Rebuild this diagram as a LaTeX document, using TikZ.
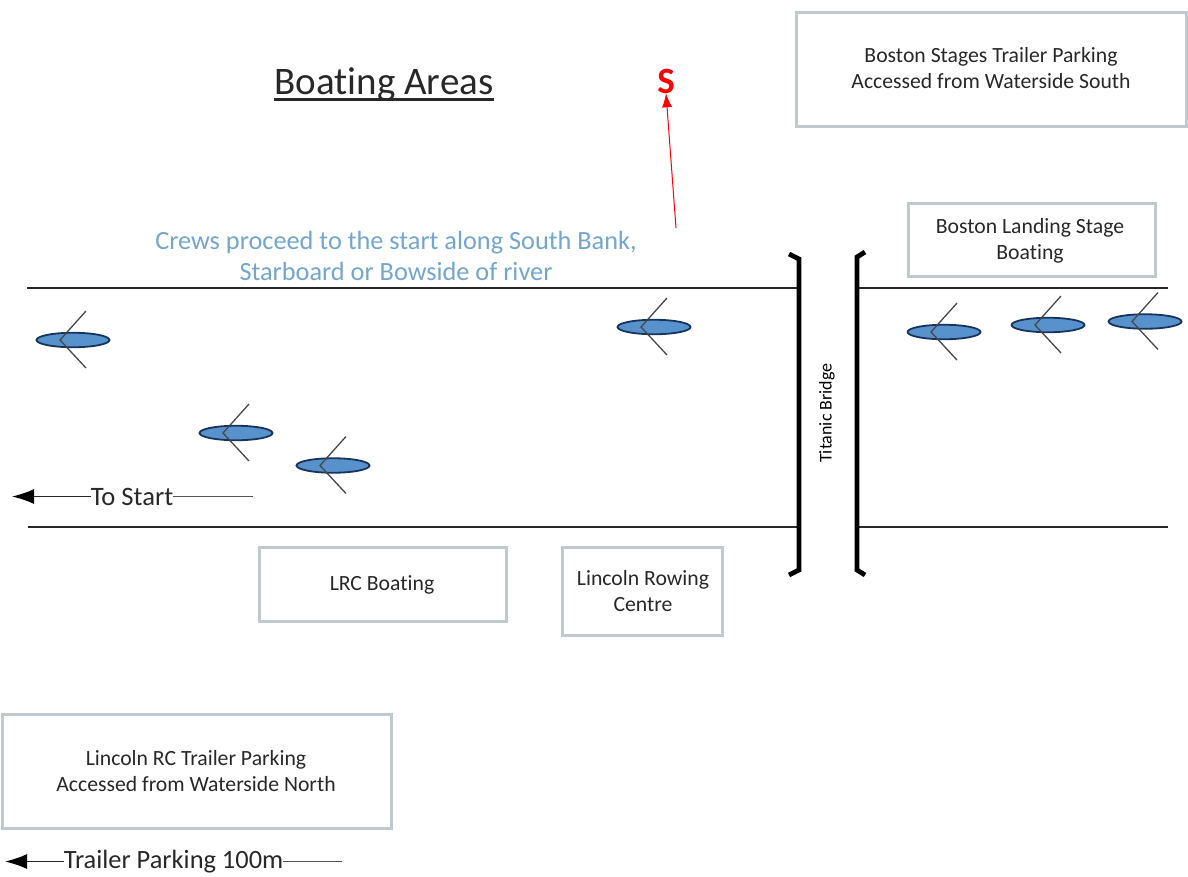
\documentclass[tikz,border=0pt]{standalone}
\usepackage{fontspec}
\setmainfont{Carlito}[Ligatures=CommonOff]
\usetikzlibrary{shapes.geometric,arrows.meta,calc}
\definecolor{boxline}{RGB}{192,200,208}
\definecolor{hull}{RGB}{88,146,205}
\definecolor{hullline}{RGB}{22,52,92}
\definecolor{crews}{RGB}{115,166,204}
\definecolor{ink}{RGB}{40,40,40}
\tikzset{
  x=1pt,y=-1pt,
  every node/.style={font=\fontsize{21.7}{26}\selectfont,text=ink,align=center,inner sep=0pt,outer sep=0pt},
  infobox/.style={draw=boxline,line width=3pt,fill=white,anchor=north west},
  hullshape/.style={ellipse,draw=hullline,line width=1.8pt,fill=hull,minimum width=73pt,minimum height=14.5pt},
  oar/.style={draw=ink!85,line width=1.3pt},
  bank/.style={draw=ink,line width=1.5pt},
  bridgeside/.style={draw=black,line width=4.8pt,line join=miter},
  pointer/.style={draw=ink,line width=1.5pt,-{Latex[length=22pt,width=15pt,color=black]}},
  plainline/.style={draw=ink!80,line width=1.5pt},
}
\newcommand{\boat}[3]{%
  \node[hullshape] (#1) at (#2,#3) {};
  \coordinate (#1v) at ($(#1.center)+(-13,0)$);
  \coordinate (#1u) at ($(#1.center)+(13,-29)$);
  \coordinate (#1d) at ($(#1.center)+(13,28)$);
  \draw[oar] (#1u) -- (#1v) -- (#1d);
}
\begin{document}
\begin{tikzpicture}
\useasboundingbox (0,0) rectangle (1188,876);
% boxes
\node[infobox,minimum width=390pt,minimum height=114pt] (stages) at (796,12) {};
\node at (991,68.5) (stagest) {Boston Stages Trailer Parking\\Accessed from Waterside South};
\node[infobox,minimum width=247pt,minimum height=73pt] (landing) at (908,203) {};
\node at (1030,240.5) (landingt) {Boston Landing Stage\\Boating};
\node[infobox,minimum width=247pt,minimum height=74pt] (lrc) at (259,547) {};
\node at (382,585) (lrct) {LRC Boating};
\node[infobox,minimum width=160pt,minimum height=88pt] (centre) at (562,547) {};
\node at (643,591.5) (centret) {Lincoln Rowing\\Centre};
\node[infobox,minimum width=389pt,minimum height=114pt] (lincoln) at (2,714) {};
\node at (196,771.5) (lincolnt) {Lincoln RC Trailer Parking\\Accessed from Waterside North};
% title and start marker
\node[font=\fontsize{39}{44}\selectfont] (title) at (384,84) {Boating Areas};
\coordinate (ula) at (274,99.5); \coordinate (ulb) at (493.5,99.5);
\draw[draw=ink,line width=2.2pt] (ula) -- (ulb);
\node[font=\fontsize{37}{40}\selectfont\bfseries,text=red] (s) at (666,81) {S};
\coordinate (sfoot) at (676,228);
\draw[draw=red,line width=1pt,-{Latex[length=14pt,width=10pt]}] (sfoot) -- (s.south);
\node[font=\fontsize{26.3}{31}\selectfont,text=crews] (crews) at (396,256) {Crews proceed to the start along South Bank,\\Starboard or Bowside of river};
% banks
\coordinate (nw) at (27,288); \coordinate (nl) at (799,288);
\coordinate (nr) at (857,288); \coordinate (ne) at (1168,288);
\coordinate (sw) at (28,527); \coordinate (sl) at (799,527);
\coordinate (sr) at (857,527); \coordinate (se) at (1168,527);
\draw[bank] (nw) -- (nl); \draw[bank] (nr) -- (ne);
\draw[bank] (sw) -- (sl); \draw[bank] (sr) -- (se);
% bridge
\coordinate (la) at (789,254); \coordinate (lb) at (799,259); \coordinate (lc) at (799,570); \coordinate (ld) at (789,575);
\coordinate (ra) at (865,252); \coordinate (rb) at (857,257); \coordinate (rc) at (857,570); \coordinate (rd) at (865,575);
\draw[bridgeside] (la) -- (lb) -- (lc) -- (ld);
\draw[bridgeside] (ra) -- (rb) -- (rc) -- (rd);
\node[rotate=90,font=\fontsize{18}{20}\selectfont,text=black] (bridge) at (827,413) {Titanic Bridge};
% boats
\boat{b1}{73}{340}
\boat{b2}{236}{433}
\boat{b3}{333}{465.5}
\boat{b4}{654}{327}
\boat{b5}{944}{332}
\boat{b6}{1048}{325}
\boat{b7}{1145}{321.5}
% direction labels
\node[font=\fontsize{26.6}{30}\selectfont] (start) at (132,496.5) {To Start};
\coordinate (startl) at (12,496.5); \coordinate (startr) at (253,496.5);
\draw[pointer] (start) -- (startl);
\draw[plainline] (start) -- (startr);
\node[font=\fontsize{26.4}{30}\selectfont] (trailer) at (173.5,861.5) {Trailer Parking 100m};
\coordinate (trailerl) at (5,861.5); \coordinate (trailerr) at (342,861.5);
\draw[pointer] (trailer) -- (trailerl);
\draw[plainline] (trailer) -- (trailerr);
\end{tikzpicture}
\end{document}
